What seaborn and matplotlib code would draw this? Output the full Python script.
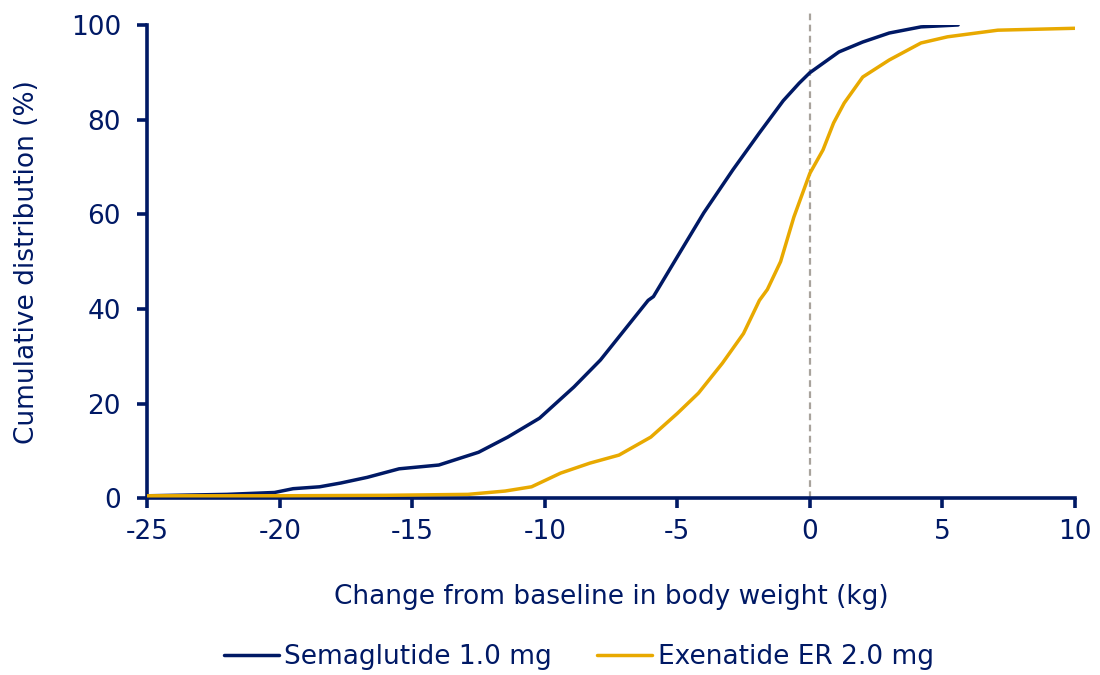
import numpy as np
import pandas as pd
import seaborn as sns
import matplotlib.pyplot as plt

# Cumulative distribution of weight change
sema_x = [-25, -22, -20.2, -19.5, -18.5, -17.7, -16.7, -15.5, -14.0, -12.5, -11.4,
          -10.2, -8.9, -7.9, -7.1, -6.1, -5.9, -5.0, -4.0, -2.9, -1.9, -1.0,
          -0.4, 0.0, 1.1, 2.0, 3.0, 4.2, 5.6]
sema_y = [0.5, 0.8, 1.2, 2.0, 2.4, 3.2, 4.4, 6.2, 7.0, 9.7, 12.9,
          16.9, 23.5, 29.2, 34.8, 41.8, 42.6, 51.0, 60.3, 69.4, 77.2, 84.0,
          87.7, 89.9, 94.3, 96.4, 98.3, 99.6, 100.0]

exen_x = [-25, -20, -16, -12.9, -11.5, -10.5, -9.4, -8.3, -7.2, -6.0, -5.0,
          -4.2, -3.3, -2.5, -1.9, -1.6, -1.1, -0.6, 0.0, 0.5, 0.9, 1.3,
          2.0, 3.0, 4.2, 5.2, 7.1, 10.0]
exen_y = [0.5, 0.5, 0.6, 0.8, 1.5, 2.4, 5.3, 7.4, 9.1, 12.9, 17.9,
          22.2, 28.5, 34.8, 41.8, 44.1, 50.0, 59.4, 68.6, 73.6, 79.3, 83.5,
          89.0, 92.6, 96.2, 97.5, 98.9, 99.3]

labels = ["Semaglutide 1.0 mg", "Exenatide ER 2.0 mg"]
colors = ["#001965", "#E8A900"]

df = pd.concat([
    pd.DataFrame({"x": sema_x, "y": sema_y, "group": labels[0]}),
    pd.DataFrame({"x": exen_x, "y": exen_y, "group": labels[1]}),
])

navy = "#001965"
sns.set_style("white")
plt.rcParams["font.family"] = ["DejaVu Sans"]
plt.rcParams["axes.unicode_minus"] = False

fig = plt.figure(figsize=(11, 6.75), dpi=100)
ax = fig.add_axes([0.134, 0.262, 0.843, 0.701])

# dashed reference line at zero change
ax.axvline(0, ymin=0, ymax=1.025, color="#A8A39C", linestyle=(0, (3, 2)),
           linewidth=1.6, clip_on=False, zorder=1)

sns.lineplot(data=df, x="x", y="y", hue="group", palette=colors,
             hue_order=labels, sort=False, estimator=None,
             linewidth=2.5, ax=ax, zorder=3)

ax.set_xlim(-25, 10)
ax.set_ylim(0, 100)
ax.set_xticks(np.arange(-25, 11, 5))
ax.set_yticks(np.arange(0, 101, 20))

sns.despine(ax=ax)
for side in ["left", "bottom"]:
    ax.spines[side].set_color(navy)
    ax.spines[side].set_linewidth(2.6)

ax.tick_params(axis="both", colors=navy, labelsize=19, direction="out",
               length=7, width=2.6, bottom=True, left=True)
ax.tick_params(axis="x", pad=8)
ax.tick_params(axis="y", pad=12)
ax.set_xlabel("Change from baseline in body weight (kg)", color=navy,
              fontsize=19, labelpad=28)
ax.set_ylabel("Cumulative distribution (%)", color=navy, fontsize=19,
              labelpad=22)

ax.legend(loc="center", bbox_to_anchor=(0.465, -0.336), ncol=2,
          frameon=False, fontsize=19, handlelength=2.1, handletextpad=0.2,
          columnspacing=1.7, labelcolor=navy)
for line in ax.get_legend().get_lines():
    line.set_linewidth(2.5)

fig.savefig("out.png", dpi=100)
